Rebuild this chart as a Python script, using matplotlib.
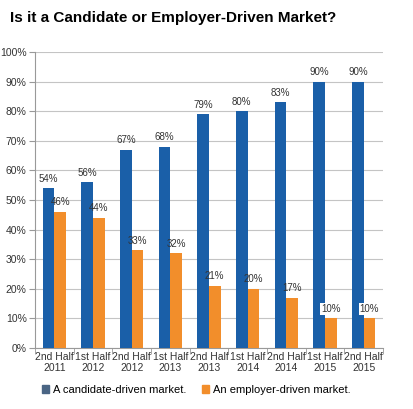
import matplotlib.pyplot as plt
import numpy as np

plt.rcParams["font.family"] = ["Liberation Sans", "DejaVu Sans"]

periods = ["2nd Half\n2011", "1st Half\n2012", "2nd Half\n2012", "1st Half\n2013",
           "2nd Half\n2013", "1st Half\n2014", "2nd Half\n2014", "1st Half\n2015",
           "2nd Half\n2015"]
candidate = [54, 56, 67, 68, 79, 80, 83, 90, 90]
employer = [46, 44, 33, 32, 21, 20, 17, 10, 10]

blue = "#1a5fa8"
orange = "#f28e2b"

fig = plt.figure(figsize=(4.13, 4.09), dpi=100)
ax = fig.add_axes([35/413, 1-348/409, 348/413, 296/409])

x = np.arange(len(periods))
w = 0.30
ax.bar(x - w/2, candidate, w, color=blue, zorder=3)
ax.bar(x + w/2, employer, w, color=orange, zorder=3)

for i in range(len(periods)):
    ax.text(x[i] - w/2, candidate[i] + 1.5, f"{candidate[i]}%", ha="center", va="bottom",
            fontsize=7, color="#333333", zorder=4)
    ax.text(x[i] + w/2, employer[i] + 1.5, f"{employer[i]}%", ha="center", va="bottom",
            fontsize=7, color="#333333", zorder=4,
            bbox=dict(facecolor="white", edgecolor="none", pad=0.5) if employer[i] <= 10 else None)

ax.set_xlim(-0.5, len(periods) - 0.5)
ax.set_ylim(0, 100)
ax.set_yticks(range(0, 101, 10))
ax.set_yticklabels([f"{v}%" for v in range(0, 101, 10)], fontsize=7.5, color="#333333")
ax.yaxis.grid(True, color="#c4c4c4", linewidth=0.8, zorder=0)
ax.set_xticks(x)
ax.set_xticklabels(periods, fontsize=7.5, color="#333333", linespacing=1.1)
ax.set_xticks(np.arange(-0.5, len(periods)), minor=True)
ax.tick_params(axis="x", which="major", length=0, pad=3)
ax.tick_params(axis="x", which="minor", length=4, color="#999999")
ax.tick_params(axis="y", length=4, color="#999999", pad=2)
for s in ["top", "right"]:
    ax.spines[s].set_visible(False)
ax.spines["left"].set_color("#999999")
ax.spines["bottom"].set_color("#999999")

fig.text(10/413, 1-18/409, "Is it a Candidate or Employer-Driven Market?", fontsize=11,
         fontweight="bold", va="center", ha="left")

fig.legend(handles=[plt.Rectangle((0, 0), 1, 1, color="#4a6584"),
                    plt.Rectangle((0, 0), 1, 1, color=orange)],
           labels=["A candidate-driven market.", "An employer-driven market."],
           loc="center left", bbox_to_anchor=(36/413, 1-390/409), ncol=2, frameon=False,
           fontsize=8, handlelength=0.7, handleheight=0.7, handletextpad=0.3,
           columnspacing=1.4, borderpad=0)

fig.savefig("out.png", dpi=100)
